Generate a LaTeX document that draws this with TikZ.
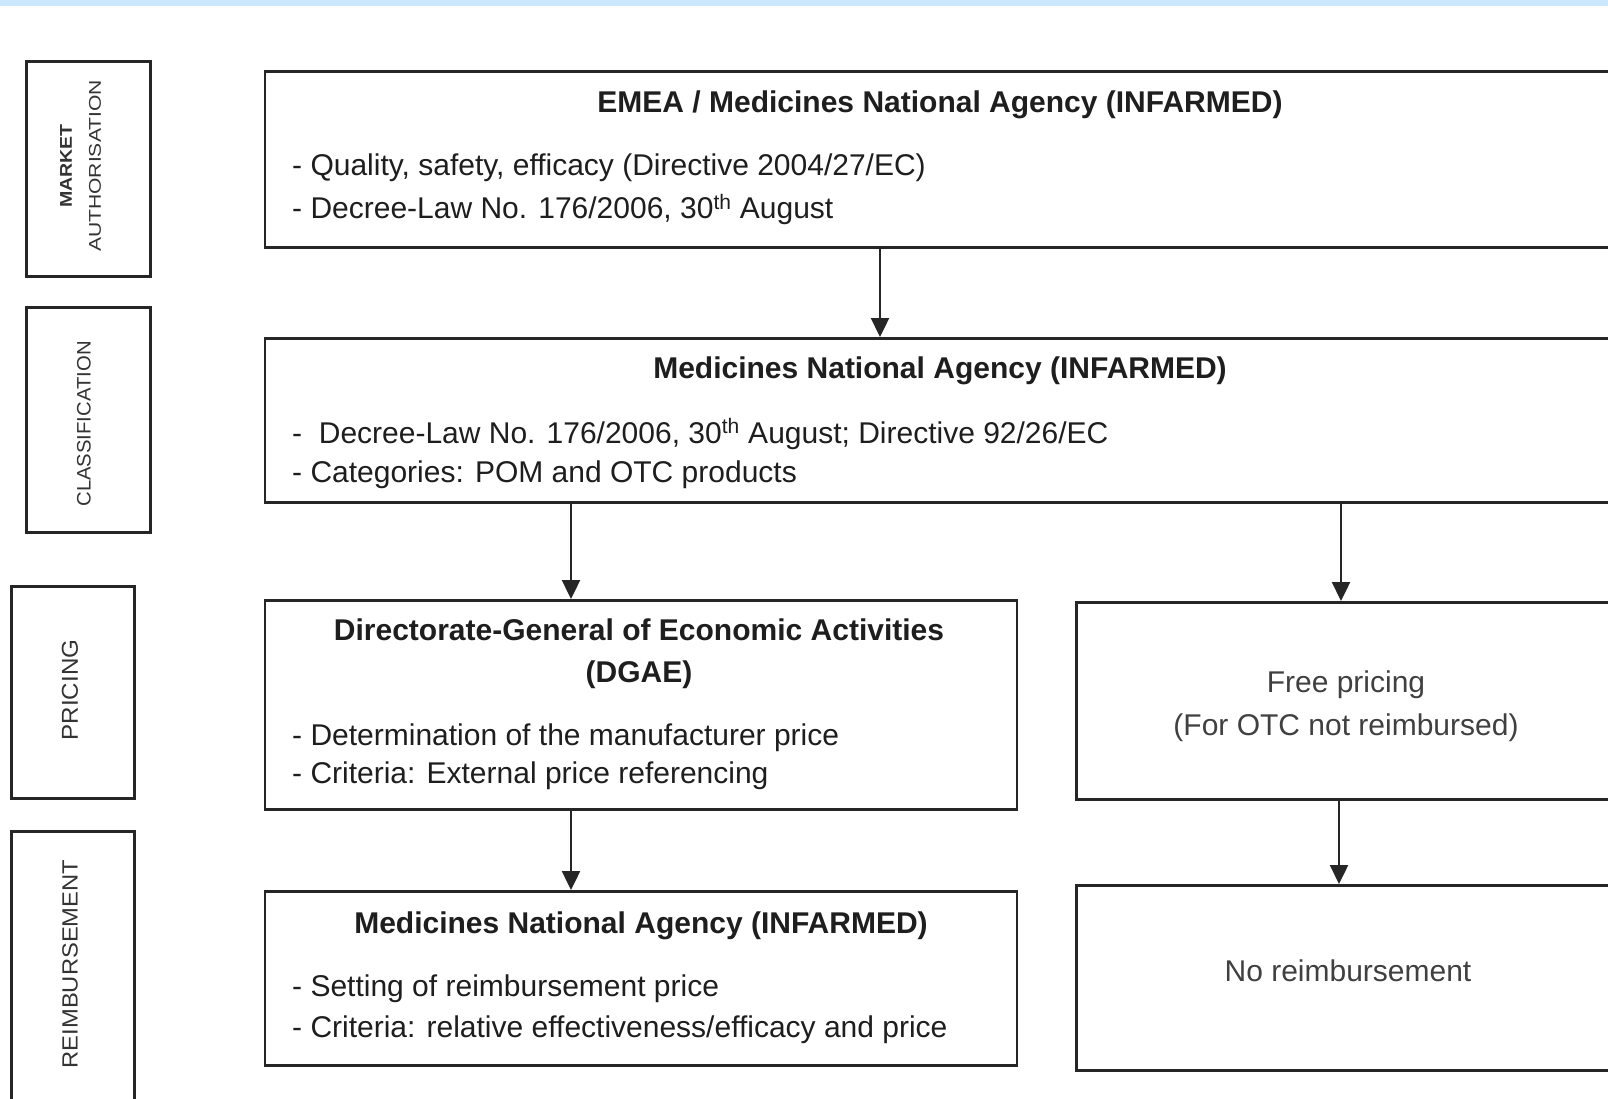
\documentclass[tikz,border=0pt]{standalone}
\usepackage{fontspec}
\setmainfont{Liberation Sans}
\usetikzlibrary{arrows.meta}
\definecolor{linec}{HTML}{262626}
\definecolor{txtc}{HTML}{1E1E1E}
\definecolor{lblc}{HTML}{333333}
\definecolor{bandblue}{HTML}{CCE8FF}
\begin{document}
\begin{tikzpicture}[x=1pt,y=-1pt,
  box/.style={draw=linec, line width=2.6pt, fill=white, inner sep=0pt, anchor=north west},
  lbox/.style={draw=linec, line width=2.6pt, fill=white, inner sep=0pt, anchor=north west},
  ttl/.style={font=\fontsize{30}{36}\selectfont\bfseries, text=txtc, anchor=base, inner sep=0pt},
  item/.style={font=\fontsize{30}{36}\selectfont, text=txtc, anchor=base west, inner sep=0pt},
  ctr/.style={font=\fontsize{30}{36}\selectfont, text=txtc!85, anchor=base, inner sep=0pt},
  lbl/.style={rotate=90, text=lblc, inner sep=0pt, anchor=center},
  arr/.style={draw=linec, line width=2.4pt, -{Triangle[length=19pt,width=18pt]}}]
\clip (0,0) rectangle (1608,1099);
\fill[white] (0,0) rectangle (1608,1099);
\fill[bandblue] (0,0) rectangle (1608,6);

% left stage labels
\node[lbox, minimum width=124pt, minimum height=215pt] (lma) at (25,60) {};
\node[lbl, font=\fontsize{17}{20}\selectfont\bfseries] (lmat1) at (66,166) {\scalebox{1.15}[1]{MARKET}};
\node[lbl, font=\fontsize{17}{20}\selectfont] (lmat2) at (95,166) {\scalebox{1.24}[1]{AUTHORISATION}};
\node[lbox, minimum width=124pt, minimum height=225pt] (lcl) at (25,306) {};
\node[lbl, font=\fontsize{19.5}{22}\selectfont] (lclt) at (84,424) {\scalebox{1.04}[1]{CLASSIFICATION}};
\node[lbox, minimum width=123pt, minimum height=212pt] (lpr) at (10,585) {};
\node[lbl, font=\fontsize{23}{26}\selectfont] (lprt) at (70,690) {\scalebox{1.05}[1]{PRICING}};
\node[lbox, minimum width=123pt, minimum height=300pt] (lre) at (10,830) {};
\node[lbl, font=\fontsize{22}{26}\selectfont] (lret) at (70,964) {\scalebox{1.08}[1]{REIMBURSEMENT}};

% main boxes
\node[box, minimum width=1360pt, minimum height=176pt] (b1) at (263.5,70) {};
\node[box, minimum width=1360pt, minimum height=164pt] (b2) at (263.5,337) {};
\node[box, minimum width=752pt, minimum height=209pt] (b3) at (263.5,599) {};
\node[box, minimum width=548pt, minimum height=197pt] (b4) at (1075,601) {};
\node[box, minimum width=752pt, minimum height=174pt] (b5) at (263.5,890) {};
\node[box, minimum width=548pt, minimum height=185pt] (b6) at (1075,884) {};

% texts box 1
\node[ttl] (t1) at (940,112.5) {EMEA / Medicines National Agency (INFARMED)};
\node[item] (t1a) at (292,176) {- Quality, safety, efficacy (Directive 2004/27/EC)};
\node[item] (t1b) at (292,219) {- Decree-Law No. 176/2006, 30\textsuperscript{th} August};
% box 2
\node[ttl] (t2) at (940,378) {Medicines National Agency (INFARMED)};
\node[item] (t2a) at (292,443) {-\ \ Decree-Law No. 176/2006, 30\textsuperscript{th} August; Directive 92/26/EC};
\node[item] (t2b) at (292,482) {- Categories: POM and OTC products};
% box 3
\node[ttl] (t3) at (639,640) {Directorate-General of Economic Activities};
\node[ttl] (t3b) at (639,682) {(DGAE)};
\node[item] (t3c) at (292,745) {- Determination of the manufacturer price};
\node[item] (t3d) at (292,783) {- Criteria: External price referencing};
% box 4
\node[ctr] (t4) at (1346,692) {Free pricing};
\node[ctr] (t4b) at (1346,735) {(For OTC not reimbursed)};
% box 5
\node[ttl] (t5) at (641,933) {Medicines National Agency (INFARMED)};
\node[item] (t5a) at (292,996.5) {- Setting of reimbursement price};
\node[item] (t5b) at (292,1037.5) {- Criteria: relative effectiveness/efficacy and price};
% box 6
\node[ctr] (t6) at (1348,981) {No reimbursement};

% connectors
\coordinate (xa) at (880,0);
\coordinate (xb) at (571,0);
\coordinate (xc) at (1341,0);
\coordinate (xd) at (1339,0);
\draw[arr] (b1.south -| xa) -- (b2.north -| xa);
\draw[arr] (b2.south -| xb) -- (b3.north -| xb);
\draw[arr] (b2.south -| xc) -- (b4.north -| xc);
\draw[arr] (b3.south -| xb) -- (b5.north -| xb);
\draw[arr] (b4.south -| xd) -- (b6.north -| xd);
\end{tikzpicture}
\end{document}
